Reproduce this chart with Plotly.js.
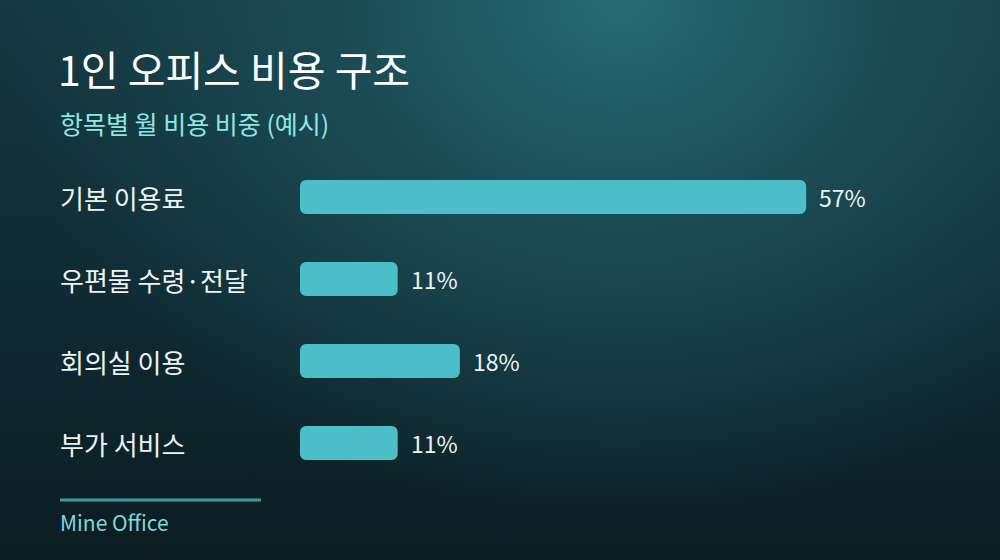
<!DOCTYPE html>
<html>
<head>
<meta charset="utf-8">
<script src="https://cdn.plot.ly/plotly-3.0.1.min.js"></script>
<style>
  html, body { margin: 0; padding: 0; }
  #chart {
    width: 1000px; height: 560px;
    background:
      radial-gradient(ellipse 620px 520px at 620px 0px, #266b74 0%, #1b4b55 45%, rgba(16,40,48,0) 100%),
      linear-gradient(180deg, #15373f 0%, #0f2a32 55%, #0b1d23 100%);
  }
</style>
</head>
<body>
<div id="chart"></div>
<script>
  // ---------------- data ----------------
  var categories = ['기본 이용료', '우편물 수령·전달', '회의실 이용', '부가 서비스'];
  var shares = [57, 11, 18, 11];
  var titleText = '1인 오피스 비용 구조';
  var subtitleText = '항목별 월 비용 비중 (예시)';
  var footerText = 'Mine Office';

  var FONT = 'Noto Sans CJK KR, Noto Sans, sans-serif';
  var labelX = (60 - 300) / 650;

  // an explicit base makes plotly round both ends of the bar
  var trace = {
    type: 'bar', orientation: 'h',
    x: shares, base: 0, y: categories,
    width: 0.415,
    marker: { color: '#4bbec7', cornerradius: 6, line: { width: 0 } },
    hoverinfo: 'none'
  };

  var annotations = [];

  for (var i = 0; i < categories.length; i++) {
    // category names, left aligned
    annotations.push({
      xref: 'paper', yref: 'y',
      x: labelX, y: categories[i], xshift: -2,
      xanchor: 'left', yanchor: 'middle',
      text: categories[i], showarrow: false,
      font: { family: FONT, size: 26, color: '#eef4f4' }
    });
    // value labels
    annotations.push({
      xref: 'x', yref: 'y',
      x: shares[i], y: categories[i],
      xanchor: 'left', yanchor: 'middle', xshift: 11,
      text: shares[i] + '%', showarrow: false,
      font: { family: FONT, size: 23, color: '#eef4f4' }
    });
  }

  // subtitle
  annotations.push({
    xref: 'paper', yref: 'paper',
    x: labelX, y: (484 - 123) / 328, xshift: -2,
    xanchor: 'left', yanchor: 'middle',
    text: subtitleText, showarrow: false,
    font: { family: FONT, size: 25, color: '#8fe6e6' }
  });

  // footer
  annotations.push({
    xref: 'paper', yref: 'paper',
    x: labelX, y: (484 - 522) / 328, xshift: -2,
    xanchor: 'left', yanchor: 'middle',
    text: footerText, showarrow: false,
    font: { family: FONT, size: 21, color: '#7fd8dc' }
  });

  var layout = {
    width: 1000,
    height: 560,
    margin: { l: 300, r: 50, t: 156, b: 76 },
    paper_bgcolor: 'rgba(0,0,0,0)',
    plot_bgcolor: 'rgba(0,0,0,0)',
    showlegend: false,
    title: {
      text: titleText,
      xref: 'container', yref: 'container',
      x: 0.058, xanchor: 'left',
      y: 1 - 72 / 560, yanchor: 'middle',
      font: { family: FONT, size: 41, color: '#ffffff' }
    },
    xaxis: {
      range: [0, 73.2],
      showgrid: false, zeroline: false, showticklabels: false, showline: false,
      fixedrange: true
    },
    yaxis: {
      type: 'category',
      autorange: 'reversed',
      showgrid: false, zeroline: false, showticklabels: false, showline: false,
      fixedrange: true
    },
    shapes: [{
      type: 'line',
      xref: 'paper', yref: 'paper',
      x0: labelX, x1: (261 - 300) / 650,
      y0: (484 - 500) / 328, y1: (484 - 500) / 328,
      line: { color: '#3c9ba1', width: 3 }
    }],
    annotations: annotations
  };

  Plotly.newPlot('chart', [trace], layout, { displayModeBar: false, staticPlot: true });
</script>
</body>
</html>
